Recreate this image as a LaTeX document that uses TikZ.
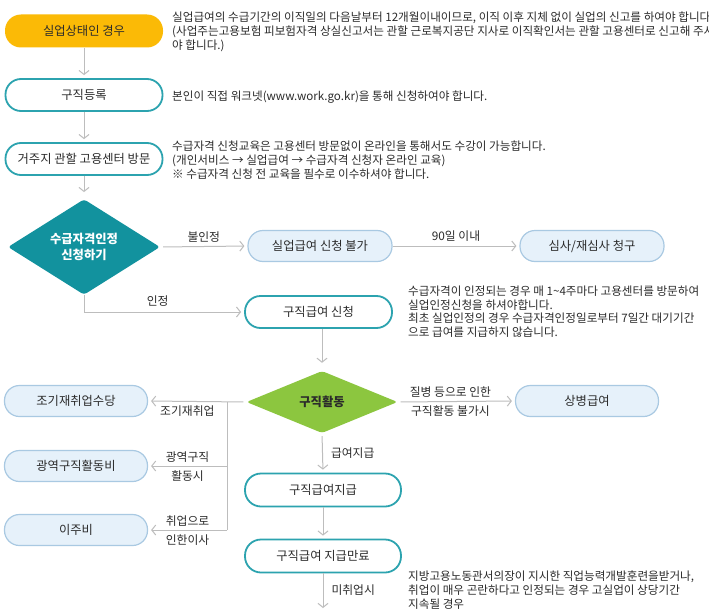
\documentclass[tikz,border=0pt]{standalone}
\usepackage{fontspec}
\setmainfont{Noto Sans CJK KR}
\usetikzlibrary{shapes.geometric,arrows.meta}
\definecolor{ylw}{HTML}{FBBA06}
\definecolor{teal1}{HTML}{2CA3AF}
\definecolor{tealfill}{HTML}{12929E}
\definecolor{grn}{HTML}{8CC63F}
\definecolor{lbfill}{HTML}{E6F1FA}
\definecolor{lbline}{HTML}{A9C9E2}
\definecolor{arr}{HTML}{BDBDBD}
\definecolor{txt}{HTML}{2B2B2B}
\tikzset{
  pill/.style={rectangle, rounded corners=15.5pt, minimum height=32pt, inner sep=0pt, text=txt, font=\fontsize{12.3}{14}\selectfont},
  yellowbox/.style={pill, fill=ylw, minimum width=158pt, minimum height=33pt, rounded corners=16pt},
  tealbox/.style={pill, draw=teal1, line width=1.8pt, fill=white},
  bluebox/.style={pill, draw=lbline, line width=1.2pt, fill=lbfill, minimum width=143pt, minimum height=31pt, rounded corners=15pt},
  dia/.style={diamond, inner sep=0pt, rounded corners=3pt, text=white, align=center, font=\fontsize{12.3}{16}\selectfont\bfseries},
  conn/.style={draw=arr, line width=1pt, -{Straight Barb[length=4pt,width=10pt,line width=1pt]}, shorten >=3pt},
  plain/.style={draw=arr, line width=1pt},
  lbl/.style={text=txt, font=\fontsize{11.8}{13}\selectfont, inner sep=0pt},
  side/.style={text=txt, font=\fontsize{11.6}{13.6}\selectfont, align=left, inner sep=0pt, anchor=north west},
}
\begin{document}
\begin{tikzpicture}[x=1pt,y=-1pt]
\useasboundingbox[fill=white] (0,0) rectangle (709,610);

% left column
\node[yellowbox] (n1) at (84,31) {실업상태인 경우};
\node[tealbox, minimum width=157pt] (n2) at (84,95) {구직등록};
\node[tealbox, minimum width=157pt] (n3) at (84,159) {거주지 관할 고용센터 방문};
\node[dia, fill=tealfill, minimum width=152pt, minimum height=65pt] (d1) at (84,247) {수급자격인정\\신청하기};

\node[bluebox, minimum width=144pt] (b1) at (320,246) {실업급여 신청 불가};
\node[bluebox, minimum width=144pt] (b2) at (592,246) {심사/재심사 청구};

\node[tealbox, minimum width=147pt] (n4) at (318.5,312) {구직급여 신청};
\node[dia, fill=grn, text=txt, minimum width=151pt, minimum height=62pt] (d2) at (322,402) {구직활동};

\node[bluebox] (b3) at (76,401) {조기재취업수당};
\node[bluebox] (b4) at (76,466) {광역구직활동비};
\node[bluebox] (b5) at (76,530) {이주비};
\node[bluebox] (b6) at (587,401) {상병급여};

\node[tealbox, minimum width=156pt, minimum height=33pt, rounded corners=16pt] (n5) at (323,490) {구직급여지급};
\node[tealbox, minimum width=156pt, minimum height=33pt, rounded corners=16pt] (n6) at (323,556) {구직급여 지급만료};

\coordinate (j) at (227,402);
\coordinate (j2) at (227,466);
\coordinate (j3) at (227,530);
\coordinate (endp) at (323,611);

% side texts
\node[side] (t1) at (172,12) {실업급여의 수급기간의 이직일의 다음날부터 12개월이내이므로, 이직 이후 지체 없이 실업의 신고를 하여야 합니다.\\(사업주는고용보험 피보험자격 상실신고서는 관할 근로복지공단 지사로 이직확인서는 관할 고용센터로 신고해 주시\\야 합니다.)};
\node[side, anchor=base west] (t2) at (172,100) {본인이 직접 워크넷(www.work.go.kr)을 통해 신청하여야 합니다.};
\node[side] (t3) at (172,141) {수급자격 신청교육은 고용센터 방문없이 온라인을 통해서도 수강이 가능합니다.\\(개인서비스 → 실업급여 → 수급자격 신청자 온라인 교육)\\※ 수급자격 신청 전 교육을 필수로 이수하셔야 합니다.};
\node[side] (t4) at (408,286) {수급자격이 인정되는 경우 매 1\textasciitilde4주마다 고용센터를 방문하여\\실업인정신청을 하셔야합니다.\\최초 실업인정의 경우 수급자격인정일로부터 7일간 대기기간\\으로 급여를 지급하지 않습니다.};
\node[side] (t5) at (408,571) {지방고용노동관서의장이 지시한 직업능력개발훈련을받거나,\\취업이 매우 곤란하다고 인정되는 경우 고실업이 상당기간\\지속될 경우};

% connectors
\draw[conn] (n1) -- (n2);
\draw[conn] (n2) -- (n3);
\draw[conn, shorten >=7pt] (n3) -- (d1);
\draw[conn, shorten <=3pt] (d1.east) -- (b1.west) node[lbl, midway, above=4pt] (l1) {불인정};
\draw[conn] (b1.east) -- (b2.west) node[lbl, midway, above=4pt] (l2) {90일 이내};
\draw[conn] (d1.south) -- (d1.south |- n4.west) -- (n4.west) node[lbl, pos=0.46, above=5pt] (l3) {인정};
\draw[conn, shorten >=8pt] (d2.north |- n4.south) -- (d2.north);
\draw[conn, shorten <=3pt] (d2.west) -- (b3.east) node[lbl, pos=0.6, below=4pt] (l4) {조기재취업};
\draw[plain] (j) -- (j3);
\draw[conn] (j2) -- (b4.east) node[lbl, midway, above=3pt] (l5) {광역구직} node[lbl, midway, below=4pt] (l6) {활동시};
\draw[conn] (j3) -- (b5.east) node[lbl, midway, above=3pt] (l7) {취업으로} node[lbl, midway, below=4pt] (l8) {인한이사};
\draw[conn, shorten <=3pt] (d2.east) -- (b6.west) node[lbl, pos=0.45, above=4pt] (l9) {질병 등으로 인한} node[lbl, pos=0.45, below=4pt] (l10) {구직활동 불가시};
\draw[conn, shorten <=3pt] (d2.south) -- (n5.north) node[lbl, midway, right=8pt] (l11) {급여지급};
\draw[conn] (n5) -- (n6);
\draw[conn] (n6.south) -- (endp) node[lbl, pos=0.45, right=8pt] (l12) {미취업시};
\end{tikzpicture}
\end{document}
